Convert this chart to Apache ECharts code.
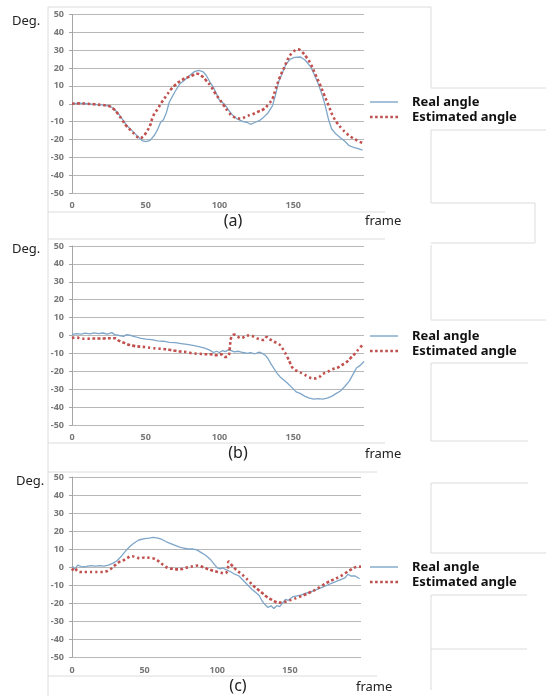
<!DOCTYPE html>
<html><head><meta charset="utf-8">
<script src="https://cdn.jsdelivr.net/npm/echarts@6/dist/echarts.min.js"></script>
<style>html,body{margin:0;padding:0;background:#fff}#c{width:546px;height:696px}</style>
</head><body><div id="c"></div>
<script>
// ---- data ([frame, degrees]) ----
var yTicks = [-50,-40,-30,-20,-10,0,10,20,30,40,50];
var xTickStep = 50;
var panelLabels = ['(a)','(b)','(c)'];
var seriesNames = ['Real angle','Estimated angle'];

var realA = [[0,0],[5,0.3],[10,0],[15,-0.3],[20,-0.6],[25,-1.2],[28,-2.5],[31,-5],[34,-8.5],[37,-12],[40,-14.5],[43,-17],[46,-19.5],[48,-20.8],[50,-21.2],[53,-20.5],[56,-17.5],[58,-14.5],[60,-10.5],[62,-9],[64,-5],[66,1],[68,4],[70,7],[73,11],[76,13],[80,16],[83,18],[86,18.7],[89,17.8],[91,16],[94,11.5],[96,9],[98,5.5],[100,2],[103,0],[105,-2],[107,-4.5],[109,-6.5],[112,-8.5],[116,-10],[119,-10.5],[121,-11.5],[124,-10.5],[127,-9.5],[130,-7.5],[133,-5],[136,-1],[138,5],[140,12],[142,16],[145,22],[148,25],[151,26],[155,26.2],[158,24.5],[162,20.5],[165,15],[167,11],[170,4],[172,-2],[174,-9],[176,-14],[179,-17],[182,-19],[185,-21],[188,-23.5],[191,-24.5],[194,-25.2],[197,-26]];
var estA = [[0,0],[5,0.2],[10,0],[15,-0.3],[20,-0.7],[25,-1.3],[28,-2.8],[31,-5.5],[34,-9],[37,-12.5],[40,-15],[43,-17.5],[46,-19.3],[48,-18.5],[50,-16.5],[53,-12],[55,-7],[58,-3],[61,1],[64,4.5],[67,8],[70,10.5],[73,12.5],[76,14],[79,15],[82,16],[85,16.8],[88,15.5],[91,13],[94,10],[97,6],[100,2.5],[103,-1],[106,-4.5],[109,-7],[112,-8],[115,-8.3],[118,-7],[122,-6],[126,-4.5],[130,-3],[133,-0.5],[136,3],[138,8],[141,15],[144,20.5],[147,26],[150,29],[153,30.5],[156,29],[159,26],[162,22],[165,16.5],[168,11],[171,5],[174,-1],[177,-7],[180,-11],[183,-14],[186,-16.5],[189,-18.5],[192,-20],[195,-21.3],[198,-22.2]];

var realB = [[0,0.5],[3,1],[6,0.8],[9,1.3],[12,0.9],[15,1.5],[18,1],[21,1.4],[24,0.8],[27,1.6],[29,0.5],[32,0],[35,-0.5],[37,0.5],[40,0],[43,-0.7],[46,-1.5],[50,-2],[54,-2.3],[58,-3],[62,-3.2],[66,-3.8],[70,-4],[74,-4.5],[78,-5],[82,-5.5],[86,-6.2],[90,-7],[93,-8],[96,-9.5],[98,-8.8],[100,-9.5],[102,-8.5],[104,-9],[106,-8],[108,-8.5],[110,-9.2],[113,-8.8],[116,-9.5],[119,-10],[121,-9.5],[124,-10.2],[127,-9.3],[129,-10],[131,-11],[133,-13],[135,-16],[137,-18.5],[139,-21],[141,-23],[143,-24.5],[146,-26.5],[149,-29],[152,-31.5],[155,-32.5],[158,-34],[161,-35],[164,-35.5],[167,-35.3],[170,-35.5],[173,-35],[176,-34],[179,-32.5],[182,-31],[185,-28.5],[188,-25.5],[191,-21],[193,-18],[195,-17],[198,-14.5]];
var estB = [[0,-1.5],[3,-1],[6,-1.8],[10,-1.8],[14,-1.7],[18,-1.7],[22,-1.6],[26,-1.5],[29,-1.5],[32,-3],[35,-4],[38,-5],[42,-5.8],[46,-6.2],[50,-6.5],[54,-7],[58,-7.3],[62,-7.5],[66,-8],[70,-8.5],[74,-9],[78,-9.3],[82,-10],[86,-10.2],[90,-10.5],[94,-10.5],[98,-11],[101,-10.5],[104,-12],[106,-11.5],[107,-7],[108,-1],[110,0.5],[112,-0.5],[115,-1.5],[118,0],[121,0],[124,-1],[127,-2],[130,-2.5],[132,-0.8],[134,-2],[137,-3.5],[140,-4.5],[142,-6.5],[144,-9],[146,-12],[148,-15.5],[150,-18.5],[153,-20],[157,-21.5],[160,-23],[164,-24],[167,-23.5],[170,-21.5],[173,-20.5],[176,-19],[180,-18],[183,-16.5],[186,-15],[189,-12.5],[192,-10],[195,-7],[198,-4.5]];

var realC = [[0,0.5],[2,-1],[4,1],[7,0],[10,0.3],[13,0.8],[16,0.5],[19,0.8],[22,0.5],[25,1],[28,2],[31,3.5],[34,6],[37,9],[40,11.5],[43,13.5],[46,15],[50,15.8],[53,16],[56,16.5],[59,16],[62,15.3],[65,14],[68,13],[71,12],[74,11],[77,10.5],[80,10],[83,10],[86,9.5],[89,8],[92,6.5],[95,4.5],[98,1.5],[100,-0.5],[102,-1],[104,-0.5],[106,-1.5],[109,-2.5],[112,-4],[115,-5],[118,-7.5],[121,-10],[124,-12.5],[127,-14.5],[129,-16],[131,-19],[133,-21],[135,-22.5],[137,-21.5],[139,-23],[141,-21.5],[143,-22],[145,-20],[147,-18],[149,-18.5],[152,-16.5],[155,-16],[158,-15.5],[161,-14.5],[164,-14],[167,-13],[170,-12],[173,-11],[176,-10],[179,-9],[182,-8],[185,-7],[188,-6],[190,-4],[192,-5],[195,-5],[198,-6.5]];
var estC = [[0,-2],[2,-0.5],[4,-2.5],[7,-2.8],[11,-2.8],[15,-2.8],[19,-2.8],[23,-2.5],[26,-1.5],[29,0.5],[32,2.5],[35,3.5],[38,5],[41,6],[44,5.5],[47,4.8],[50,5.3],[54,5],[57,4.5],[60,3],[63,1],[66,-0.5],[69,-1],[72,-1.3],[75,-1.2],[78,-0.5],[81,0],[84,0.5],[87,0.8],[90,0],[93,-1],[96,-1.8],[99,-2.5],[102,-3],[105,-3.5],[107,-2],[108,3],[110,1],[113,-1.5],[116,-3.5],[119,-5.5],[122,-8],[125,-10.5],[128,-12.5],[131,-14.5],[134,-16.5],[137,-18],[140,-19.3],[143,-19.8],[146,-19.5],[149,-18.8],[152,-18],[156,-16.8],[160,-15.5],[164,-14],[168,-12.5],[172,-10.5],[176,-8.5],[180,-7],[184,-5.5],[188,-3.5],[192,-1.5],[196,0],[199,0.2]];

var realSets = [realA, realB, realC];
var estSets = [estA, estB, estC];

// ---- layout ----
var FONT = '"Noto Sans", "DejaVu Sans", sans-serif';
var grids = [
  {left:72, top:14.5, width:292, height:178.5},
  {left:72, top:246, width:292, height:179},
  {left:72, top:477, width:289, height:180}
];
var xMax = [198, 198, 199];
var labelMargins = [8, 7.5, 8.5];
var legendTops = [95, 329, 560];
var blue = '#7ea6c9', red = '#c0504d';
var iconSolid = 'path://M0,0h28v1.4h-28z';
var iconDots = 'path://M0,0h2.6v2.6h-2.6z M5.1,0h2.6v2.6h-2.6z M10.2,0h2.6v2.6h-2.6z M15.3,0h2.6v2.6h-2.6z M20.4,0h2.6v2.6h-2.6z M25.5,0h2.6v2.6h-2.6z';

var xAxes = [], yAxes = [], series = [], legends = [];
grids.forEach(function(g, i){
  xAxes.push({
    type:'value', gridIndex:i, min:0, max:xMax[i], interval:xTickStep,
    axisLine:{show:false}, axisTick:{show:false}, splitLine:{show:false},
    axisLabel:{margin:labelMargins[i], fontSize:9, fontWeight:'bold', color:'#777', fontFamily:FONT,
      formatter:function(v){ return v % xTickStep === 0 ? String(v) : ''; }}
  });
  yAxes.push({
    type:'value', gridIndex:i, min:yTicks[0], max:yTicks[yTicks.length-1], interval:10,
    axisLine:{show:true, lineStyle:{color:'#a6a6a6', width:1}},
    axisTick:{show:true, length:3, lineStyle:{color:'#a6a6a6'}},
    splitLine:{show:true, lineStyle:{color:'#b8b8b8', width:1}},
    axisLabel:{margin:8, fontSize:9, fontWeight:'bold', color:'#777', fontFamily:FONT}
  });
  series.push({
    name:seriesNames[0], type:'line', xAxisIndex:i, yAxisIndex:i, data:realSets[i],
    showSymbol:false, symbol:'none', smooth:false,
    lineStyle:{color:blue, width:1.3}, itemStyle:{color:blue}, z:2
  });
  series.push({
    name:seriesNames[1], type:'line', xAxisIndex:i, yAxisIndex:i, data:estSets[i],
    showSymbol:false, symbol:'none', smooth:true,
    lineStyle:{color:red, width:2.6, type:[2.6,2.6]}, itemStyle:{color:red}, z:3
  });
  legends.push({
    show:true, left:370, top:legendTops[i], orient:'vertical', padding:0, itemGap:1,
    itemWidth:28, itemHeight:2.6, selectedMode:false,
    data:[{name:seriesNames[0], icon:iconSolid, itemStyle:{color:blue}},
          {name:seriesNames[1], icon:iconDots, itemStyle:{color:red}}],
    textStyle:{fontSize:13, fontWeight:'bold', color:'#111', fontFamily:FONT, padding:[0,0,0,9], lineHeight:14}
  });
});

function hline(x1,x2,y){ return {type:'line', silent:true, shape:{x1:x1,y1:y,x2:x2,y2:y}, style:{stroke:'#dcdcdc', lineWidth:1}}; }
function vline(x,y1,y2){ return {type:'line', silent:true, shape:{x1:x,y1:y1,x2:x,y2:y2}, style:{stroke:'#dcdcdc', lineWidth:1}}; }
function txt(x,y,s,size,align){ return {type:'text', silent:true, x:x, y:y, style:{text:s, fontSize:size, fontFamily:FONT, fill:'#222', textAlign:align||'left', textVerticalAlign:'middle'}}; }

var graphic = [
  hline(48,431,7), vline(48,7,696), hline(48,385,212), vline(431,7,88), hline(431,546,88),
  hline(431,546,130), vline(431,130,203), hline(431,535,203), vline(535,203,243),
  hline(48,385,239), hline(431,535,243), vline(431,245,320), hline(431,546,320),
  vline(431,363,441), hline(431,528,363), hline(431,528,441), hline(48,385,443),
  hline(48,377,472), vline(431,483,553), hline(431,528,483), hline(431,546,553),
  vline(431,595,690), hline(431,527,595), hline(431,527,649), hline(48,377,676),
  txt(12,21,'Deg.',13), txt(12,249,'Deg.',13), txt(16,481,'Deg.',13),
  txt(233,221,panelLabels[0],16,'center'), txt(238,453,panelLabels[1],16,'center'), txt(238,686,panelLabels[2],16,'center'),
  txt(365,221,'frame',13), txt(365,454,'frame',13), txt(356,687,'frame',13)
];

var chart = echarts.init(document.getElementById('c'), null, {renderer:'canvas'});
chart.setOption({
  animation:false, backgroundColor:'#fff',
  grid:grids, xAxis:xAxes, yAxis:yAxes, series:series, legend:legends, graphic:graphic
});
</script></body></html>
